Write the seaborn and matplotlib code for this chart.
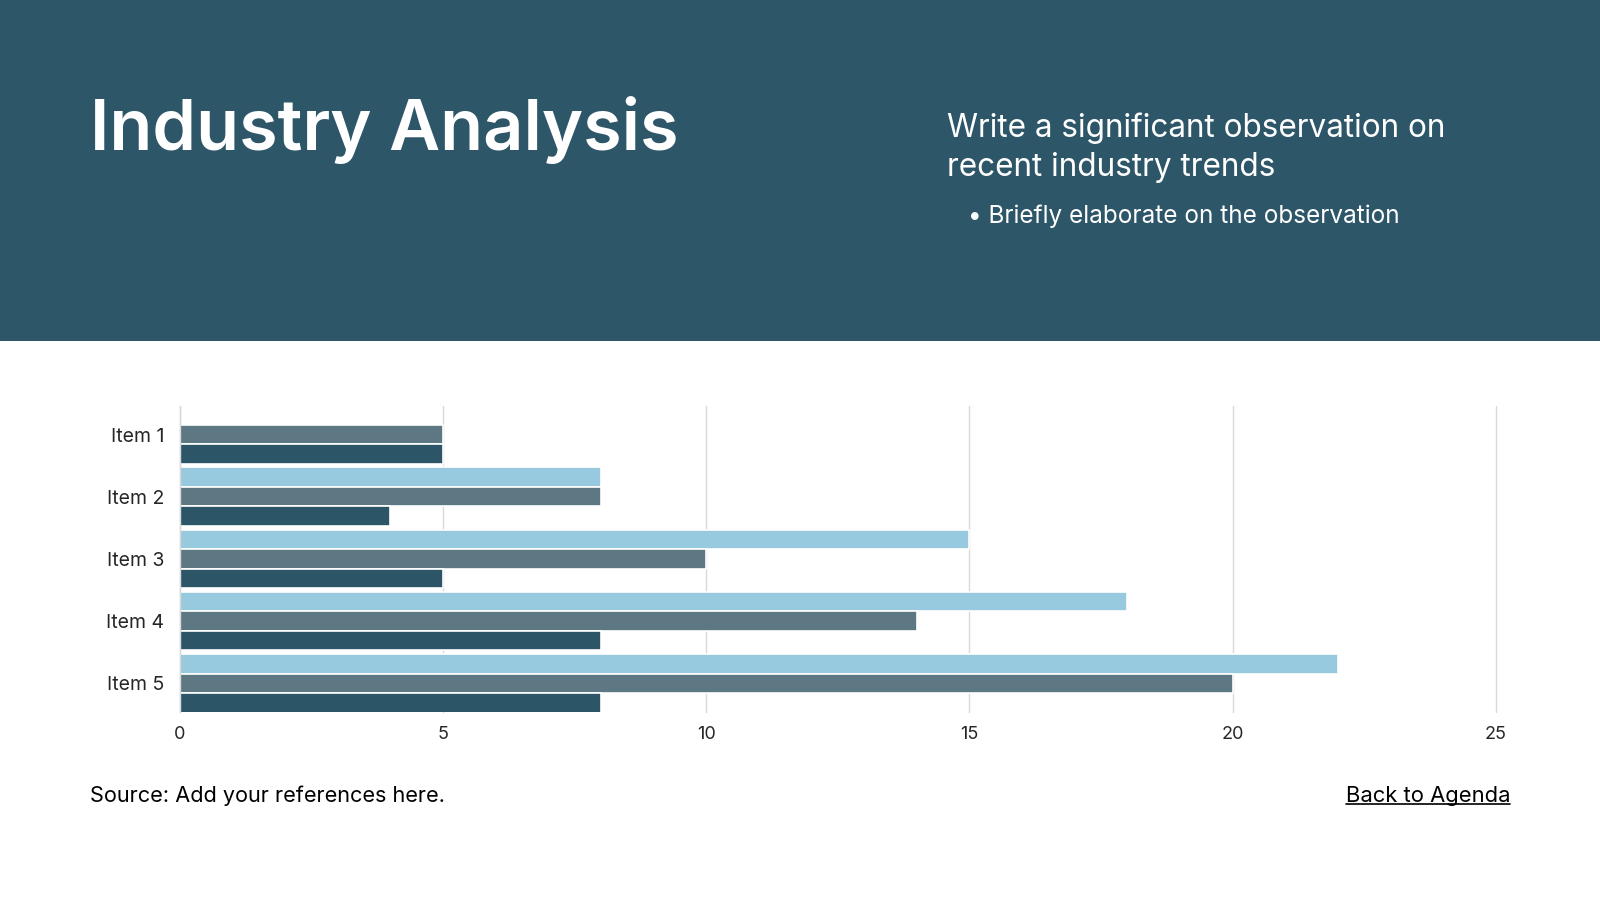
import matplotlib
matplotlib.use("Agg")
import matplotlib.pyplot as plt
import pandas as pd
import seaborn as sns
from matplotlib.lines import Line2D
from matplotlib.patches import Rectangle

items = ["Item 1", "Item 2", "Item 3", "Item 4", "Item 5"]
series_names = ["Series 1", "Series 2", "Series 3"]
series_1 = [0, 8, 15, 18, 22]
series_2 = [5, 8, 10, 14, 20]
series_3 = [5, 4, 5, 8, 8]
x_ticks = [0, 5, 10, 15, 20, 25]

header_color = "#2D5668"
palette = ["#97C9DF", "#5D7883", "#2C5668"]

df = pd.DataFrame({
    "item": items * 3,
    "series": [s for s in series_names for _ in items],
    "value": series_1 + series_2 + series_3,
})

sns.set_theme(style="white")
plt.rcParams["font.family"] = ["Inter", "DejaVu Sans"]

fig = plt.figure(figsize=(16, 9), dpi=100)
fig.patch.set_facecolor("white")

# header band
fig.patches.append(Rectangle((0, 0.621), 1, 0.379, transform=fig.transFigure,
                             facecolor=header_color, edgecolor="none", zorder=0))
fig.text(0.056, 0.856, "Industry Analysis", color="white", fontsize=50.5,
         fontweight="semibold", va="center", ha="left")
fig.text(0.592, 0.857, "Write a significant observation on", color="white",
         fontsize=22.7, va="center", ha="left")
fig.text(0.592, 0.8135, "recent industry trends", color="white",
         fontsize=22.7, va="center", ha="left")
fig.text(0.605, 0.760, "\u2022 Briefly elaborate on the observation", color="white",
         fontsize=17.5, va="center", ha="left")

ax = fig.add_axes([0.1122, 0.209, 0.8228, 0.34])
sns.barplot(data=df, y="item", x="value", hue="series", hue_order=series_names,
            order=items, palette=palette, orient="h", width=0.94,
            edgecolor="white", linewidth=1.2, saturation=1, legend=False, ax=ax)

ax.set_xlim(0, 25)
ax.set_ylim(4.46, -0.46)
ax.set_xticks(x_ticks)
ax.set_xticklabels([str(t) for t in x_ticks], fontsize=13)
ax.tick_params(axis="y", labelsize=14, length=0, pad=11)
ax.tick_params(axis="x", length=0, pad=10)
ax.set_xlabel("")
ax.set_ylabel("")
ax.grid(axis="x", color="#D9D9D9", linewidth=1)
for gl in ax.get_xgridlines():
    gl.set_clip_on(False)
ax.set_axisbelow(True)
for side in ["top", "right", "bottom"]:
    ax.spines[side].set_visible(False)
ax.spines["left"].set_color("#D9D9D9")
ax.spines["left"].set_linewidth(1)

# footer
fig.text(0.056, 0.116, "Source: Add your references here.", fontsize=15.6,
         color="black", va="center", ha="left")
link = fig.text(0.944, 0.116, "Back to Agenda", fontsize=15.8, color="black",
                va="center", ha="right")
fig.canvas.draw()
bb = link.get_window_extent().transformed(fig.transFigure.inverted())
fig.lines.append(Line2D([bb.x0, bb.x1], [bb.y0 + 0.002, bb.y0 + 0.002],
                        transform=fig.transFigure, color="black", linewidth=1.2))

fig.savefig("out.png", dpi=100, facecolor="white")
plt.close(fig)
